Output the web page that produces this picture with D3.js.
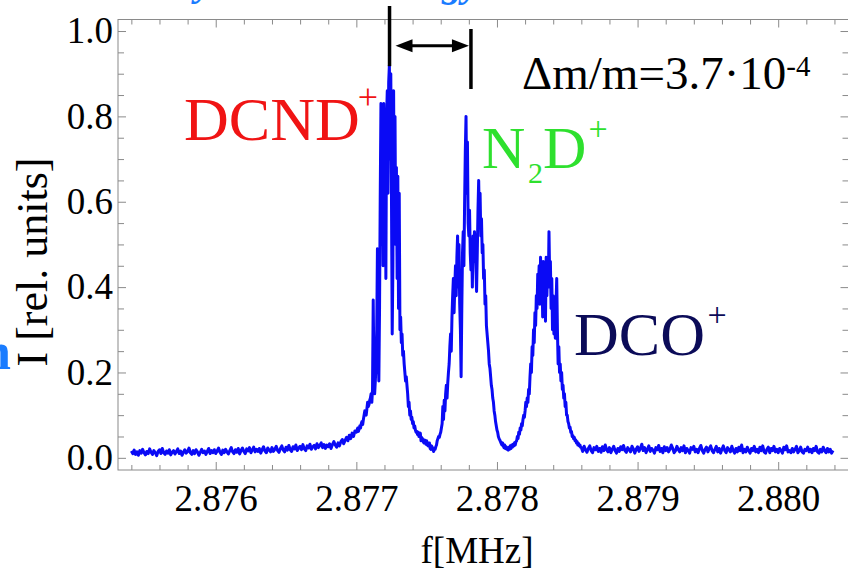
<!DOCTYPE html>
<html>
<head>
<meta charset="utf-8">
<script src="https://cdn.jsdelivr.net/npm/d3@7"></script>
<style>
  html, body { margin: 0; padding: 0; background: #fff; overflow: hidden; }
  svg { display: block; }
</style>
</head>
<body>
<svg id="chart" width="848" height="573"></svg>
<script>
// ---- Measured intensity [rel. units], one array per spectral region ----
// wings are sampled every 10 Hz, the three lines every 5 Hz
const baselineLow = [
  0.016, 0.010, 0.018, 0.008, 0.014, 0.006, 0.017, 0.011, 0.020, 0.012,
  0.007, 0.015, 0.010, 0.021, 0.013, 0.008, 0.017, 0.012, 0.005, 0.015,
  0.019, 0.010, 0.022, 0.012, 0.008, 0.016, 0.011, 0.019, 0.007, 0.013,
  0.017, 0.009, 0.015, 0.021, 0.010, 0.016, 0.006, 0.013, 0.019, 0.011,
  0.015, 0.023, 0.012, 0.008, 0.017, 0.010, 0.019, 0.014, 0.006, 0.013,
  0.020, 0.012, 0.016, 0.008, 0.015, 0.022, 0.010, 0.017, 0.012, 0.019,
  0.010, 0.016, 0.023, 0.013, 0.008, 0.018, 0.012, 0.020, 0.014, 0.009,
  0.017, 0.024, 0.014, 0.010, 0.019, 0.013, 0.022, 0.009, 0.017, 0.023,
  0.015, 0.010, 0.021, 0.016, 0.024, 0.012, 0.018, 0.025, 0.014, 0.020,
  0.015, 0.022, 0.011, 0.019, 0.026, 0.016, 0.012, 0.023, 0.018, 0.014,
  0.024, 0.015, 0.020, 0.027, 0.017, 0.013, 0.022, 0.028, 0.018, 0.014,
  0.025, 0.018, 0.029, 0.019, 0.015, 0.026, 0.021, 0.030, 0.017, 0.023,
  0.027, 0.019, 0.031, 0.021, 0.017, 0.028, 0.023, 0.032, 0.020, 0.026,
  0.029, 0.021, 0.033, 0.024, 0.029, 0.035, 0.024, 0.031, 0.022, 0.030,
  0.026, 0.033, 0.022, 0.031, 0.038, 0.030, 0.025, 0.035, 0.028, 0.038,
  0.043, 0.033, 0.041, 0.048, 0.040, 0.053, 0.045, 0.058, 0.050, 0.063
];
const dcndBand = [
  0.06, 0.065, 0.07, 0.062, 0.068, 0.075, 0.07, 0.08, 0.085, 0.078,
  0.09, 0.10, 0.11, 0.105, 0.10, 0.115, 0.13, 0.12, 0.125, 0.135,
  0.14, 0.15, 0.13, 0.16, 0.37, 0.20, 0.15, 0.18, 0.22, 0.30,
  0.49, 0.25, 0.18, 0.35, 0.62, 0.83, 0.50, 0.80, 0.45, 0.83,
  0.55, 0.78, 0.42, 0.80, 0.86, 0.62, 0.88, 0.92, 0.70, 0.90,
  0.60, 0.29, 0.45, 0.86, 0.55, 0.80, 0.50, 0.68, 0.42, 0.66,
  0.35, 0.62, 0.30, 0.33, 0.27, 0.29, 0.24, 0.25, 0.22, 0.20,
  0.18, 0.19, 0.17, 0.15, 0.12, 0.13, 0.10, 0.11, 0.09, 0.095,
  0.08, 0.085, 0.07, 0.075, 0.065, 0.06, 0.062, 0.055, 0.06, 0.05,
  0.052, 0.058, 0.04, 0.048, 0.045, 0.038, 0.035, 0.042, 0.04, 0.032,
  0.04, 0.03, 0.028, 0.035, 0.035, 0.022, 0.02, 0.028, 0.025, 0.018,
  0.015, 0.022, 0.02, 0.026, 0.03
];
const n2dBand = [
  0.04, 0.045, 0.05, 0.048, 0.055, 0.06, 0.07, 0.08, 0.12, 0.09,
  0.135, 0.11, 0.15, 0.17, 0.14, 0.175, 0.20, 0.22, 0.26, 0.29,
  0.25, 0.33, 0.38, 0.42, 0.34, 0.40, 0.45, 0.38, 0.47, 0.52,
  0.40, 0.50, 0.36, 0.30, 0.19, 0.35, 0.48, 0.53, 0.45, 0.60,
  0.72, 0.80, 0.62, 0.74, 0.55, 0.52, 0.58, 0.48, 0.44, 0.50,
  0.40, 0.52, 0.46, 0.53, 0.50, 0.45, 0.39, 0.48, 0.58, 0.65,
  0.55, 0.62, 0.52, 0.56, 0.48, 0.50, 0.42, 0.44, 0.36, 0.38,
  0.31, 0.29, 0.27, 0.25, 0.22, 0.21, 0.19, 0.17, 0.16, 0.14,
  0.13, 0.11, 0.10, 0.085, 0.075, 0.065, 0.06, 0.05, 0.045, 0.042,
  0.038, 0.034, 0.03, 0.035, 0.028, 0.024, 0.03, 0.022, 0.026, 0.02,
  0.024, 0.018, 0.025, 0.02, 0.028, 0.022, 0.03, 0.025, 0.032, 0.028,
  0.035, 0.03, 0.038
];
const dcoBand = [
  0.04, 0.05, 0.045, 0.06, 0.055, 0.07, 0.065, 0.08, 0.075, 0.09,
  0.10, 0.095, 0.11, 0.13, 0.12, 0.14, 0.13, 0.16, 0.15, 0.19,
  0.22, 0.20, 0.26, 0.24, 0.30, 0.27, 0.34, 0.31, 0.38, 0.35,
  0.43, 0.40, 0.45, 0.36, 0.47, 0.38, 0.44, 0.33, 0.46, 0.36,
  0.45, 0.32, 0.47, 0.38, 0.44, 0.40, 0.53, 0.42, 0.46, 0.35,
  0.42, 0.30, 0.38, 0.29, 0.34, 0.28, 0.36, 0.42, 0.30, 0.22,
  0.26, 0.20, 0.22, 0.18, 0.20, 0.16, 0.17, 0.14, 0.15, 0.12,
  0.13, 0.10, 0.10, 0.085, 0.08, 0.07, 0.072, 0.06, 0.062, 0.05,
  0.052, 0.045, 0.048, 0.04, 0.042, 0.035, 0.038, 0.03, 0.034, 0.028,
  0.03, 0.025
];
const baselineHigh = [
  0.024, 0.015, 0.027, 0.019, 0.013, 0.022, 0.028, 0.017, 0.012, 0.024,
  0.019, 0.027, 0.015, 0.022, 0.013, 0.026, 0.017, 0.030, 0.019, 0.014,
  0.024, 0.012, 0.020, 0.027, 0.017, 0.011, 0.022, 0.015, 0.026, 0.019,
  0.029, 0.017, 0.013, 0.024, 0.019, 0.014, 0.027, 0.021, 0.011, 0.020,
  0.026, 0.015, 0.022, 0.032, 0.017, 0.024, 0.012, 0.020, 0.028, 0.015,
  0.022, 0.018, 0.011, 0.024, 0.019, 0.029, 0.015, 0.022, 0.012, 0.026,
  0.017, 0.024, 0.014, 0.020, 0.030, 0.022, 0.012, 0.017, 0.027, 0.019,
  0.014, 0.024, 0.017, 0.028, 0.012, 0.022, 0.017, 0.011, 0.024, 0.020,
  0.027, 0.014, 0.020, 0.012, 0.022, 0.029, 0.017, 0.011, 0.020, 0.025,
  0.014, 0.022, 0.028, 0.017, 0.012, 0.020, 0.027, 0.014, 0.022, 0.011,
  0.020, 0.028, 0.017, 0.012, 0.024, 0.019, 0.014, 0.027, 0.017, 0.011,
  0.022, 0.014, 0.025, 0.017, 0.030, 0.012, 0.020, 0.014, 0.025, 0.017,
  0.011, 0.022, 0.017, 0.027, 0.014, 0.020, 0.012, 0.025, 0.017, 0.028,
  0.014, 0.011, 0.020, 0.025, 0.012, 0.022, 0.017, 0.027, 0.014, 0.020,
  0.012, 0.022, 0.017, 0.011, 0.025, 0.019, 0.028, 0.014, 0.017, 0.012,
  0.022, 0.014, 0.020, 0.027, 0.012, 0.017, 0.025, 0.014, 0.011, 0.020,
  0.017, 0.025, 0.014, 0.020, 0.012, 0.022, 0.017, 0.027, 0.014, 0.011,
  0.020, 0.014, 0.025, 0.017, 0.012, 0.022, 0.014, 0.020, 0.011, 0.017
];

// ---- Scan segments: start frequency and step (MHz) for each region ----
const segmentStarts = [2.8754, 2.8770, 2.877575, 2.87814, 2.8786];
const segmentSteps  = [0.00001, 0.000005, 0.000005, 0.000005, 0.00001];

// ---- Axis ticks ----
const xTickValues = [2.876, 2.877, 2.878, 2.879, 2.880];
const xTickLabels = ["2.876", "2.877", "2.878", "2.879", "2.880"];
const yTickValues = [0.0, 0.2, 0.4, 0.6, 0.8, 1.0];
const yTickLabels = ["0.0", "0.2", "0.4", "0.6", "0.8", "1.0"];
const xMinorStep = 0.0002;
const yMinorStep = 0.05;

// ---- Annotations ----
const markerFreqs = [2.877236, 2.877815];   // DCND+ peak and N2D+ reference
const markerPeak = 0.92;

// ---- Build the spectrum ----
const bands = [baselineLow, dcndBand, n2dBand, dcoBand, baselineHigh];
const spectrum = bands.flatMap((vals, s) =>
  vals.map((v, i) => ({ f: segmentStarts[s] + i * segmentSteps[s], v })));

const svg = d3.select("#chart");
const frame = { left: 118, right: 848.5, top: 19.5, bottom: 470 };
const FONT = "Liberation Serif";

const x = d3.scaleLinear().domain([2.875305, 2.8805]).range([frame.left, frame.right]);
const y = d3.scaleLinear().domain([-0.0285, 1.027]).range([frame.bottom, frame.top]);

const tickColor = "#8a8a8a";
const minorX = d3.range(2.8754, 2.88045, xMinorStep).filter(v => !xTickValues.some(t => Math.abs(t - v) < 1e-7));
const minorY = d3.range(0, 1.0001, yMinorStep).filter(v => !yTickValues.some(t => Math.abs(t - v) < 1e-7));

function styleAxis(g) {
  g.attr("font-family", FONT).attr("font-size", 37);
  g.select(".domain").remove();
  g.selectAll(".tick line").attr("stroke", tickColor).attr("stroke-width", 1);
  g.selectAll(".tick text").attr("fill", "#000");
}

// bottom
svg.append("g").attr("transform", `translate(0,${frame.bottom})`)
  .call(d3.axisBottom(x).tickValues(xTickValues).tickSize(-8).tickPadding(15)
    .tickFormat((d, i) => xTickLabels[i]))
  .call(styleAxis);
svg.append("g").attr("transform", `translate(0,${frame.bottom})`)
  .call(d3.axisBottom(x).tickValues(minorX).tickSize(-5).tickFormat(""))
  .call(styleAxis);
// top
svg.append("g").attr("transform", `translate(0,${frame.top})`)
  .call(d3.axisTop(x).tickValues(xTickValues).tickSize(-8).tickFormat(""))
  .call(styleAxis);
svg.append("g").attr("transform", `translate(0,${frame.top})`)
  .call(d3.axisTop(x).tickValues(minorX).tickSize(-5).tickFormat(""))
  .call(styleAxis);
// left
svg.append("g").attr("transform", `translate(${frame.left},0)`)
  .call(d3.axisLeft(y).tickValues(yTickValues).tickSize(-8).tickPadding(5)
    .tickFormat((d, i) => yTickLabels[i]))
  .call(styleAxis);
svg.append("g").attr("transform", `translate(${frame.left},0)`)
  .call(d3.axisLeft(y).tickValues(minorY).tickSize(-6).tickFormat(""))
  .call(styleAxis);
// right
svg.append("g").attr("transform", `translate(${frame.right},0)`)
  .call(d3.axisRight(y).tickValues(yTickValues).tickSize(-8).tickFormat(""))
  .call(styleAxis);
svg.append("g").attr("transform", `translate(${frame.right},0)`)
  .call(d3.axisRight(y).tickValues(minorY).tickSize(-6).tickFormat(""))
  .call(styleAxis);

// frame
svg.append("rect")
  .attr("x", frame.left).attr("y", frame.top)
  .attr("width", frame.right - frame.left).attr("height", frame.bottom - frame.top)
  .attr("fill", "none").attr("stroke", tickColor).attr("stroke-width", 1);

// spectrum trace
const line = d3.line().x(d => x(d.f)).y(d => y(d.v));
svg.append("path")
  .datum(spectrum)
  .attr("d", line)
  .attr("fill", "none")
  .attr("stroke", "#0a0af5")
  .attr("stroke-width", 3)
  .attr("stroke-linejoin", "round");

// axis titles
svg.append("text")
  .attr("x", 477).attr("y", 563)
  .attr("text-anchor", "middle")
  .attr("font-family", FONT).attr("font-size", 37)
  .text("f[MHz]");

svg.append("text")
  .attr("transform", "translate(47,262) rotate(-90)")
  .attr("text-anchor", "middle")
  .attr("font-family", FONT).attr("font-size", 44)
  .text("I [rel. units]");

// peak marker lines and separation arrow
const mA = x(markerFreqs[0]), mB = x(markerFreqs[1]);
svg.append("line")
  .attr("x1", mA).attr("x2", mA).attr("y1", 6).attr("y2", y(markerPeak) + 1)
  .attr("stroke", "#000").attr("stroke-width", 3.5);
svg.append("line")
  .attr("x1", mB).attr("x2", mB).attr("y1", 29).attr("y2", 89)
  .attr("stroke", "#000").attr("stroke-width", 3.5);

const arrowY = 45.7, aL = mA + 6, aR = mB - 2, head = 17, halfH = 6.5;
svg.append("line")
  .attr("x1", aL + head - 2).attr("x2", aR - head + 2).attr("y1", arrowY).attr("y2", arrowY)
  .attr("stroke", "#000").attr("stroke-width", 3);
svg.append("path")
  .attr("d", `M${aL},${arrowY} L${aL + head},${arrowY - halfH} L${aL + head},${arrowY + halfH} Z`)
  .attr("fill", "#000");
svg.append("path")
  .attr("d", `M${aR},${arrowY} L${aR - head},${arrowY - halfH} L${aR - head},${arrowY + halfH} Z`)
  .attr("fill", "#000");

// resolution label
const res = svg.append("text")
  .attr("x", 522).attr("y", 89)
  .attr("font-family", FONT).attr("font-size", 47).attr("fill", "#000");
res.append("tspan").text("\u0394m/m=3.7\u00b710");
res.append("tspan").attr("dy", -13).attr("font-size", 29).text("-4");

// species labels
function species(parts) {
  parts.forEach(p => {
    svg.append("text")
      .attr("x", p.x).attr("y", p.y)
      .attr("text-anchor", p.anchor || "start")
      .attr("fill", p.color)
      .attr("font-family", FONT).attr("font-size", p.size)
      .text(p.t);
  });
}
species([
  { t: "DCND", x: 184, y: 140, size: 62, color: "#f01414" },
  { t: "+", x: 368, y: 109, size: 36, color: "#f01414", anchor: "middle" }
]);
species([
  { t: "N", x: 482, y: 168, size: 60, color: "#2ee02e" },
  { t: "2", x: 528, y: 183, size: 30, color: "#2ee02e" },
  { t: "D", x: 543, y: 168, size: 60, color: "#2ee02e" },
  { t: "+", x: 598, y: 140, size: 34, color: "#2ee02e", anchor: "middle" }
]);
species([
  { t: "DCO", x: 574, y: 355, size: 62, color: "#0b0b58" },
  { t: "+", x: 717, y: 326, size: 34, color: "#0b0b58", anchor: "middle" }
]);

// slide heading fragments around the figure
const slideBlue = "#1a7cff";
svg.append("text").attr("x", 213).attr("y", -5).attr("text-anchor", "end")
  .attr("fill", slideBlue).attr("font-family", FONT).attr("font-size", 40)
  .attr("font-weight", "bold").attr("font-style", "italic").text("by");
svg.append("text").attr("x", 480).attr("y", -4).attr("text-anchor", "end")
  .attr("fill", slideBlue).attr("font-family", FONT).attr("font-size", 40)
  .attr("font-weight", "bold").attr("font-style", "italic").text("energy");
svg.append("text").attr("x", 11).attr("y", 369).attr("text-anchor", "end")
  .attr("fill", slideBlue).attr("font-family", FONT).attr("font-size", 52)
  .attr("font-weight", "bold").text("n");
</script>
</body>
</html>
